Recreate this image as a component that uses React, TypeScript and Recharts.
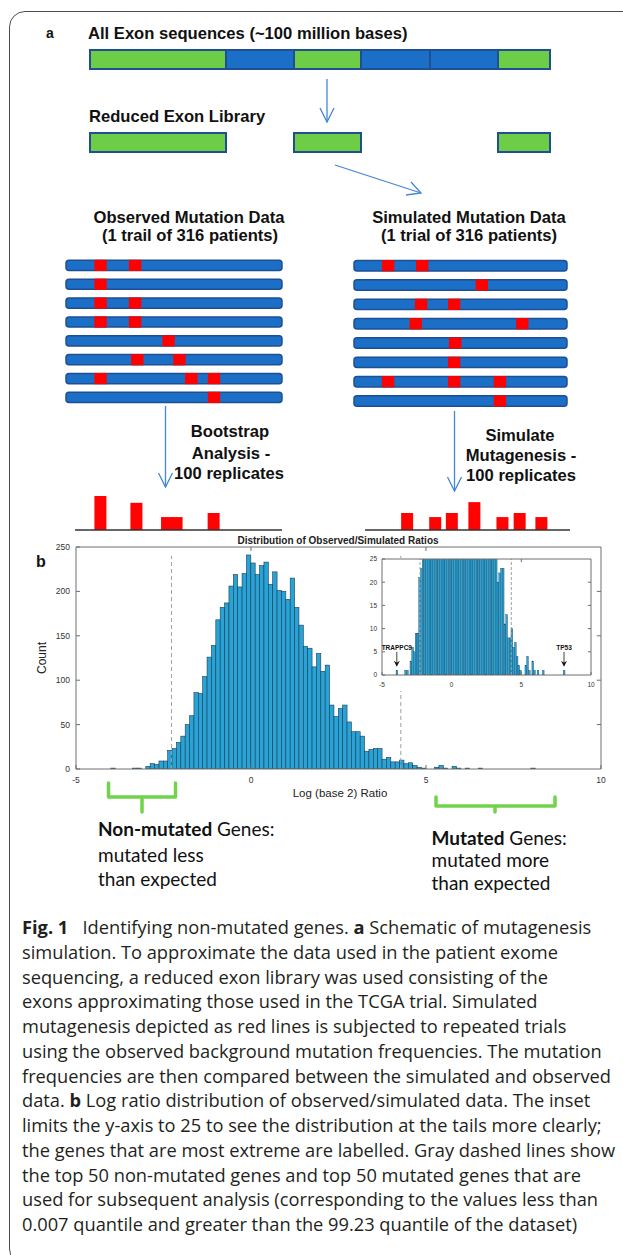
import React from "react";
import {
  Bar,
  BarChart,
  ReferenceArea,
  ReferenceDot,
  ReferenceLine,
  Scatter,
  ScatterChart,
  XAxis,
  YAxis,
} from "recharts";

// ---- panel a: schematic data ----
const exonLengths = [136, 68, 67, 69, 68, 52];
const exonInLibrary = [true, false, true, false, false, true];

// mutation positions (0-100 along the exon library) per patient row
const observedRows = [[16, 32], [16], [16, 32], [16, 32], [47.5], [33, 52.5], [16, 58, 68.5], [68.5]];
const simulatedRows = [[16, 32], [60], [31.5, 47], [29, 79], [47.5], [47], [16, 47, 68.5], [68.5]];

const bootstrapPositions = [12.5, 29.9, 44.7, 49.3, 67.2];
const bootstrapHeights = [5, 4, 1.9, 1.9, 2.5];
const simulatePositions = [20.7, 34.4, 42.5, 53.5, 67.2, 75.6, 86.2];
const simulateHeights = [2.5, 1.9, 2.5, 4.1, 1.9, 2.5, 1.9];

// ---- panel b: histogram of log2(observed/simulated) ----
const histFirstEdge = -4;
const histBinWidth = 0.125;
const histCounts = [
  1, 0, 0, 0, 0, 1, 1, 0, 3, 6, 5, 9, 9, 21, 23, 30, 37, 50, 60, 86,
  85, 104, 126, 139, 168, 182, 187, 206, 219, 205, 220, 241, 232, 219, 229, 233, 208, 222, 201, 200,
  191, 215, 182, 162, 138, 136, 115, 130, 110, 117, 72, 59, 68, 72, 53, 42, 42, 37, 20, 22,
  23, 23, 11, 13, 8, 8, 10, 6, 7, 4, 2, 1, 0, 0, 2, 4, 1, 0, 3, 1,
  0, 1, 0, 0, 1, 0, 0, 0, 0, 0, 0, 0, 0, 0, 0, 0, 1,
];
const xTicks = [-5, 0, 5, 10];
const yTicks = [0, 50, 100, 150, 200, 250];
const insetTicks = [0, 5, 10, 15, 20, 25];
const cutoffs = [-2.27, 4.28];
const labelledGenes = [
  { name: "TRAPPC9", x: -3.9375, count: 1 },
  { name: "TP53", x: 8.0625, count: 1 },
];

const captionLines: { t: string; b?: boolean }[][] = [
  [{ t: "Fig. 1", b: true }, { t: "   Identifying non-mutated genes. " }, { t: "a", b: true }, { t: " Schematic of mutagenesis" }],
  [{ t: "simulation. To approximate the data used in the patient exome" }],
  [{ t: "sequencing, a reduced exon library was used consisting of the" }],
  [{ t: "exons approximating those used in the TCGA trial. Simulated" }],
  [{ t: "mutagenesis depicted as red lines is subjected to repeated trials" }],
  [{ t: "using the observed background mutation frequencies. The mutation" }],
  [{ t: "frequencies are then compared between the simulated and observed" }],
  [{ t: "data. " }, { t: "b", b: true }, { t: " Log ratio distribution of observed/simulated data. The inset" }],
  [{ t: "limits the y-axis to 25 to see the distribution at the tails more clearly;" }],
  [{ t: "the genes that are most extreme are labelled. Gray dashed lines show" }],
  [{ t: "the top 50 non-mutated genes and top 50 mutated genes that are" }],
  [{ t: "used for subsequent analysis (corresponding to the values less than" }],
  [{ t: "0.007 quantile and greater than the 99.23 quantile of the dataset)" }],
];

const ARIAL = '"Liberation Sans", Arial, sans-serif';
const GREEN = "#6dcd46";
const BLUE = "#1b6fc6";
const EDGE = "#1f4f93";
const ARROW = "#4287d8";
const HIST_FILL = "#27a3d8";
const HIST_EDGE = "#1e3c50";
const AXIS = "#6e6e6e";

const binData = Array.from({ length: 120 }, (_, i) => {
  const left = -5 + i * histBinWidth;
  const j = Math.round((left - histFirstEdge) / histBinWidth);
  const c = j >= 0 && j < histCounts.length ? histCounts[j] : 0;
  return { x: left + histBinWidth / 2, count: c > 0 ? c : null };
});

function ExonStrip({ top, showAll }: { top: number; showAll: boolean }) {
  const row: Record<string, number | string> = { name: "exons" };
  exonLengths.forEach((len, i) => {
    row[`s${i}`] = len;
  });
  const total = exonLengths.reduce((a, b) => a + b, 0);
  return (
    <div style={{ position: "absolute", left: 88, top: top - 2 }}>
      <BarChart
        layout="vertical"
        width={total + 4}
        height={23}
        data={[row]}
        margin={{ top: 2, right: 2, bottom: 2, left: 2 }}
        barCategoryGap={0}
      >
        <XAxis type="number" domain={[0, total]} hide />
        <YAxis type="category" dataKey="name" hide />
        {exonLengths.map((_, i) => {
          const visible = showAll || exonInLibrary[i];
          return (
            <Bar
              key={i}
              dataKey={`s${i}`}
              stackId="exon"
              fill={visible ? (exonInLibrary[i] ? GREEN : BLUE) : "none"}
              stroke={visible ? EDGE : "none"}
              strokeWidth={2}
              isAnimationActive={false}
            />
          );
        })}
      </BarChart>
    </div>
  );
}

function MutationRows(props: { rows: number[][]; left: number; top: number; width: number; spacing: number }) {
  const { rows, left, top, width, spacing } = props;
  const points = rows.flatMap((r, i) => r.map((pos) => ({ pos, row: i + 1 })));
  const m = 8;
  return (
    <div style={{ position: "absolute", left: left - m, top: top - m }}>
      <ScatterChart
        width={width + 2 * m}
        height={spacing * rows.length + 2 * m}
        margin={{ top: m, right: m, bottom: m, left: m }}
      >
        <XAxis type="number" dataKey="pos" domain={[0, 100]} hide />
        <YAxis type="number" dataKey="row" domain={[0.5, rows.length + 0.5]} reversed hide />
        {rows.map((_, i) => (
          <ReferenceArea
            key={i}
            x1={0}
            x2={100}
            y1={i + 1 - 0.27}
            y2={i + 1 + 0.27}
            shape={(p: any) => (
              <rect x={p.x} y={p.y} width={p.width} height={p.height} rx={3} fill={BLUE} stroke={EDGE} strokeWidth={1.5} />
            )}
          />
        ))}
        <Scatter
          data={points}
          isAnimationActive={false}
          shape={(p: any) => <rect x={p.cx - 6.2} y={p.cy - 5.6} width={12.4} height={11.2} fill="#ff0000" />}
        />
      </ScatterChart>
    </div>
  );
}

function ReplicateBars(props: { positions: number[]; heights: number[]; left: number; width: number }) {
  const { positions, heights, left, width } = props;
  const data = positions.map((pos, i) => ({ pos, h: heights[i] }));
  return (
    <div style={{ position: "absolute", left, top: 496 }}>
      <BarChart width={width} height={36} data={data} margin={{ top: 0, right: 0, bottom: 0, left: 0 }}>
        <XAxis
          type="number"
          dataKey="pos"
          domain={[0, 100]}
          height={2}
          tick={false}
          tickLine={false}
          axisLine={{ stroke: "#333", strokeWidth: 1.5 }}
        />
        <YAxis domain={[0, 5]} hide />
        <Bar
          dataKey="h"
          barSize={12}
          isAnimationActive={false}
          shape={(p: any) => <rect x={p.x + p.width / 2 - 6} y={p.y} width={12} height={p.height} fill="#ff0303" />}
        />
      </BarChart>
    </div>
  );
}

const tickStyle = (size: number) => ({ fontSize: size, fill: "#333", fontFamily: ARIAL });

// box edges and inward ticks on the top and right side, MATLAB style
function boxLines(yMax: number, yTickList: number[], dx: number, dy: number, id: string) {
  const out: React.ReactNode[] = [
    <ReferenceLine key={`${id}-top`} xAxisId="num" yAxisId="left" y={yMax} stroke={AXIS} />,
    <ReferenceLine key={`${id}-right`} xAxisId="num" yAxisId="left" x={10} stroke={AXIS} />,
  ];
  xTicks.slice(1, -1).forEach((t) =>
    out.push(
      <ReferenceLine
        key={`${id}-tt${t}`}
        xAxisId="num"
        yAxisId="left"
        segment={[{ x: t, y: yMax }, { x: t, y: yMax - dy }]}
        stroke={AXIS}
      />
    )
  );
  yTickList.slice(1, -1).forEach((t) =>
    out.push(
      <ReferenceLine
        key={`${id}-rt${t}`}
        xAxisId="num"
        yAxisId="left"
        segment={[{ x: 10, y: t }, { x: 10 - dx, y: t }]}
        stroke={AXIS}
      />
    )
  );
  return out;
}

function HistBar(bw: number, sw: number) {
  return (p: any) => {
    if (!p.height || p.height <= 0) return <g />;
    const cx = p.x + p.width / 2;
    return (
      <rect x={cx - bw / 2} y={p.y} width={bw} height={p.height} fill={HIST_FILL} stroke={HIST_EDGE} strokeWidth={sw} />
    );
  };
}

function MainHistogram() {
  return (
    <div style={{ position: "absolute", left: 0, top: 520 }}>
      <BarChart
        width={623}
        height={271}
        data={binData}
        margin={{ top: 27, right: 22, bottom: 0, left: 40 }}
        barCategoryGap={0}
        barGap={0}
      >
        <XAxis
          xAxisId="num"
          dataKey="x"
          type="number"
          domain={[-5, 10]}
          ticks={xTicks}
          interval={0}
          allowDataOverflow
          height={22}
          tickSize={-4}
          tickMargin={12}
          tick={tickStyle(8.5)}
          stroke={AXIS}
        />
        <YAxis
          yAxisId="left"
          domain={[0, 250]}
          ticks={yTicks}
          interval={0}
          allowDataOverflow
          width={36}
          tickSize={-4}
          tickMargin={10}
          tick={tickStyle(8.5)}
          stroke={AXIS}
        />
        <Bar
          xAxisId="num"
          yAxisId="left"
          dataKey="count"
          isAnimationActive={false}
          shape={HistBar((525 / 15) * histBinWidth, 0.6)}
        />
        {cutoffs.map((c) => (
          <ReferenceLine
            key={c}
            xAxisId="num"
            yAxisId="left"
            segment={[{ x: c, y: 0 }, { x: c, y: 240 }]}
            stroke="#a0a0a0"
            strokeDasharray="4 3"
          />
        ))}
        {boxLines(250, yTicks, 0.12, 4.5, "m")}
      </BarChart>
    </div>
  );
}

function GeneArrow({ cx, cy, name }: { cx: number; cy: number; name: string }) {
  return (
    <g>
      <text x={cx} y={cy - 20.5} textAnchor="middle" fontSize={6.5} fontWeight="bold" fontFamily={ARIAL} fill="#111">
        {name}
      </text>
      <line x1={cx} y1={cy - 18.5} x2={cx} y2={cy - 6} stroke="#111" strokeWidth={0.8} />
      <path d={`M${cx - 3},${cy - 9.5} L${cx},${cy - 3.5} L${cx + 3},${cy - 9.5} L${cx},${cy - 7.5} Z`} fill="#111" />
    </g>
  );
}

function InsetHistogram() {
  return (
    <>
      {/* white backing of the inset axes, hides the main plot underneath */}
      <div style={{ position: "absolute", left: 352, top: 558, width: 240, height: 133, background: "#fff" }} />
      <div style={{ position: "absolute", left: 352, top: 552 }}>
        <BarChart
          width={252}
          height={139}
          data={binData}
          margin={{ top: 7, right: 13, bottom: 0, left: 0 }}
          barCategoryGap={0}
          barGap={0}
        >
          <XAxis
            xAxisId="num"
            dataKey="x"
            type="number"
            domain={[-5, 10]}
            ticks={xTicks}
            interval={0}
            allowDataOverflow
            height={16}
            tickSize={-3}
            tickMargin={10}
            tick={tickStyle(6.5)}
            stroke={AXIS}
          />
          <YAxis
            yAxisId="left"
            domain={[0, 25]}
            ticks={insetTicks}
            interval={0}
            allowDataOverflow
            width={30}
            tickSize={-3}
            tickMargin={8}
            tick={tickStyle(6.5)}
            stroke={AXIS}
          />
          <Bar
            xAxisId="num"
            yAxisId="left"
            dataKey="count"
            isAnimationActive={false}
            shape={HistBar((209 / 15) * histBinWidth, 0.35)}
          />
          {cutoffs.map((c) => (
            <ReferenceLine key={c} xAxisId="num" yAxisId="left" x={c} stroke="#a0a0a0" strokeDasharray="3 2" />
          ))}
          {boxLines(25, insetTicks, 0.22, 0.65, "i")}
          {labelledGenes.map((g) => (
            <ReferenceDot
              key={g.name}
              xAxisId="num"
              yAxisId="left"
              x={g.x}
              y={g.count}
              r={1}
              shape={(p: any) => <GeneArrow cx={p.cx} cy={p.cy} name={g.name} />}
            />
          ))}
        </BarChart>
      </div>
    </>
  );
}

function DownArrow({ x, y1, y2 }: { x: number; y1: number; y2: number }) {
  return (
    <g stroke={ARROW} strokeWidth={1.3} fill="none">
      <line x1={x} y1={y1} x2={x} y2={y2} />
      <polyline points={`${x - 7},${y2 - 14} ${x},${y2} ${x + 7},${y2 - 14}`} />
    </g>
  );
}

function Overlay() {
  const bold = { fontFamily: ARIAL, fontWeight: 700, fontSize: 16.6, fill: "#111" } as const;
  const gene = { fontFamily: "Lato, sans-serif", fontSize: 19, fill: "#111" } as const;
  return (
    <svg
      width={623}
      height={1255}
      style={{ position: "absolute", left: 0, top: 0, pointerEvents: "none" }}
    >
      {/* panel a */}
      <text x={46} y={37.5} {...bold} fontSize={14}>a</text>
      <text x={88} y={39} {...bold}>All Exon sequences (~100 million bases)</text>
      <text x={89} y={122} {...bold}>Reduced Exon Library</text>
      <text x={189} y={222.5} textAnchor="middle" {...bold}>Observed Mutation Data</text>
      <text x={190} y={241} textAnchor="middle" {...bold}>(1 trail of 316 patients)</text>
      <text x={469} y={222.5} textAnchor="middle" {...bold}>Simulated Mutation Data</text>
      <text x={469} y={241} textAnchor="middle" {...bold}>(1 trial of 316 patients)</text>
      <text x={230} y={437} textAnchor="middle" {...bold}>Bootstrap</text>
      <text x={231} y={458.5} textAnchor="middle" {...bold}>Analysis -</text>
      <text x={229} y={478.5} textAnchor="middle" {...bold}>100 replicates</text>
      <text x={520} y={440.5} textAnchor="middle" {...bold}>Simulate</text>
      <text x={521} y={461} textAnchor="middle" {...bold}>Mutagenesis -</text>
      <text x={521} y={481} textAnchor="middle" {...bold}>100 replicates</text>

      <DownArrow x={327} y1={79} y2={122} />
      <g stroke={ARROW} strokeWidth={1.3} fill="none">
        <line x1={335} y1={165} x2={421} y2={193} />
        <polyline points="411,182 421,193 406,195" />
      </g>
      <DownArrow x={165.5} y1={406} y2={487} />
      <DownArrow x={454.5} y1={411} y2={491} />

      {/* panel b */}
      <text x={36} y={567} {...bold} fontSize={16}>b</text>
      <text x={338} y={544} textAnchor="middle" fontFamily={ARIAL} fontWeight={700} fontSize={10} fill="#222">
        Distribution of Observed/Simulated Ratios
      </text>
      <text x={46} y={658} textAnchor="middle" transform="rotate(-90 46 658)" fontFamily={ARIAL} fontSize={12} fill="#222">
        Count
      </text>
      <text x={340} y={797} textAnchor="middle" fontFamily={ARIAL} fontSize={11.5} fill="#222">
        Log (base 2) Ratio
      </text>

      <g stroke="#71d34b" strokeWidth={3.5} fill="none" strokeLinejoin="round" strokeLinecap="round">
        <path d="M108.5,783 L108.5,797 L175.5,797 L175.5,783 M142,797 L142,812" />
        <path d="M436,797 L436,806 L555,806 L555,797 M495,806 L495,812" />
      </g>

      <text x={98} y={836} {...gene}>
        <tspan fontWeight={700}>Non-mutated</tspan> Genes:
      </text>
      <text x={98} y={862} {...gene}>mutated less</text>
      <text x={98} y={885.5} {...gene}>than expected</text>
      <text x={431.5} y={845} {...gene}>
        <tspan fontWeight={700}>Mutated</tspan> Genes:
      </text>
      <text x={431.5} y={867} {...gene}>mutated more</text>
      <text x={431.5} y={890} {...gene}>than expected</text>

      {/* caption */}
      {captionLines.map((segs, i) => (
        <text
          key={i}
          x={22}
          y={934 + i * 24.75}
          fontFamily='"Open Sans", sans-serif'
          fontSize={18.25}
          fill="#231f20"
          style={{ whiteSpace: "pre" }}
        >
          {segs.map((s, k) => (
            <tspan key={k} fontWeight={s.b ? 700 : 400}>
              {s.t}
            </tspan>
          ))}
        </text>
      ))}
    </svg>
  );
}

export default function App() {
  return (
    <div
      style={{
        position: "absolute",
        left: 0,
        top: 0,
        width: 623,
        height: 1255,
        overflow: "hidden",
        background: "#fff",
      }}
    >
      <div
        style={{
          position: "absolute",
          left: 9,
          top: 11,
          width: 700,
          height: 1252,
          border: "1.5px solid #4d4d4d",
          borderRadius: 16,
        }}
      />
      <ExonStrip top={50} showAll />
      <ExonStrip top={133} showAll={false} />
      <MutationRows rows={observedRows} left={65.7} top={255.57} width={216} spacing={18.857} />
      <MutationRows rows={simulatedRows} left={354} top={255.6} width={213} spacing={19.343} />
      <ReplicateBars positions={bootstrapPositions} heights={bootstrapHeights} left={75} width={207} />
      <ReplicateBars positions={simulatePositions} heights={simulateHeights} left={365} width={205} />
      <MainHistogram />
      <InsetHistogram />
      <Overlay />
    </div>
  );
}
